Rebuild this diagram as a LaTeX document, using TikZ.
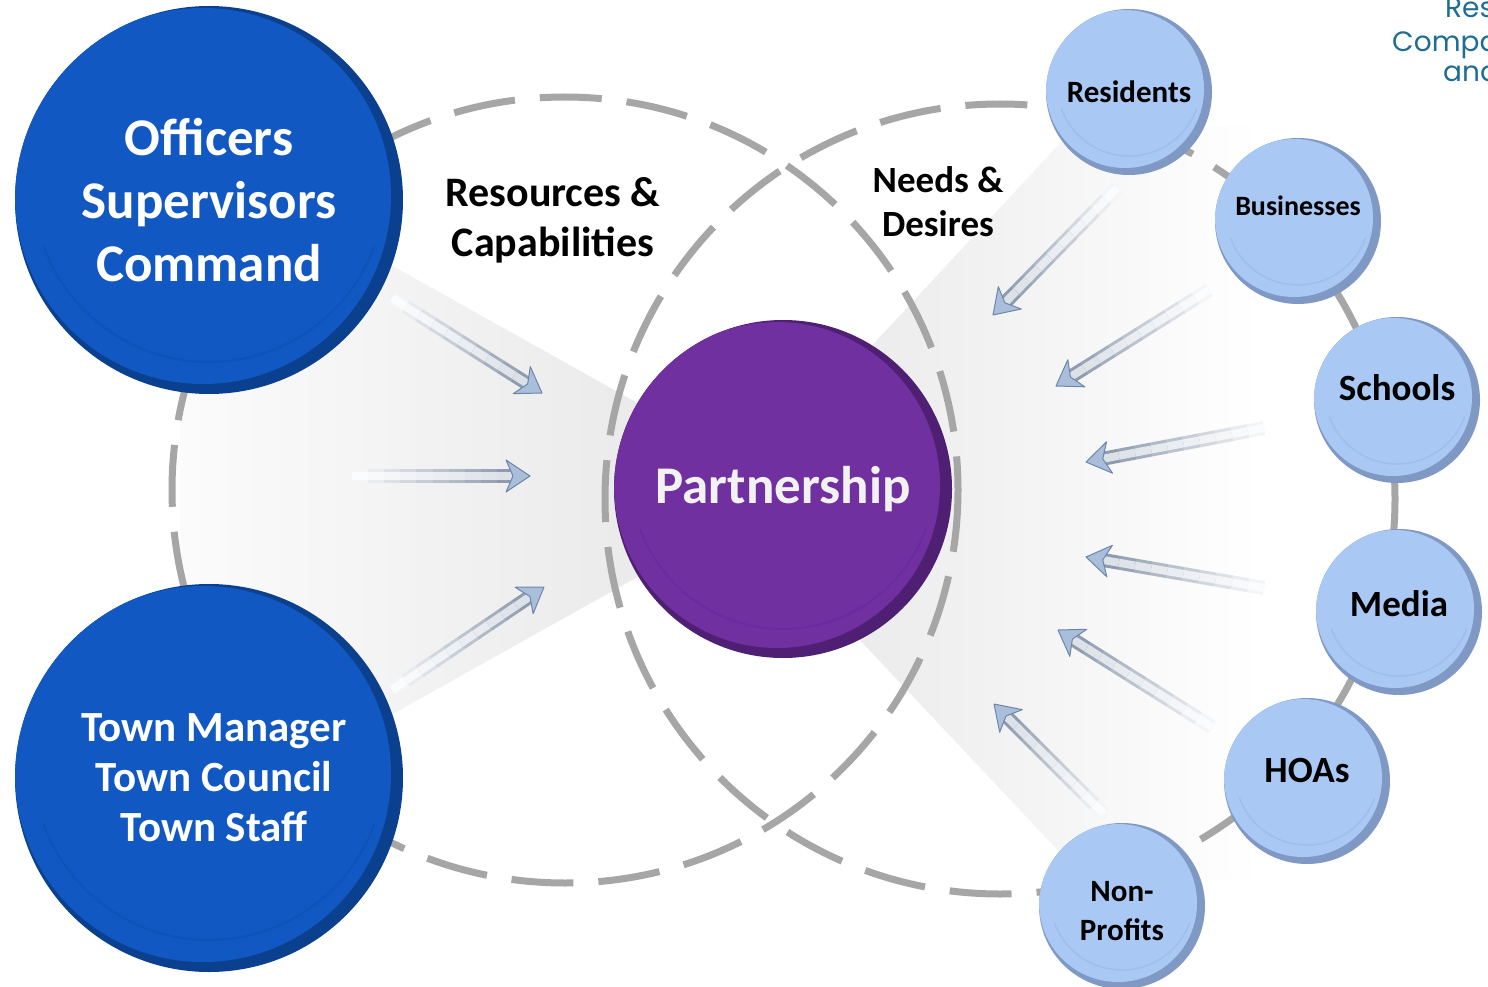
\documentclass[tikz,border=0pt]{standalone}
\usepackage{fontspec}
\setmainfont{Carlito}
\newfontfamily\gothicfont{Poppins}
\usepackage{xcolor}
\usepackage{tikz}
\usetikzlibrary{calc, backgrounds, positioning}

\definecolor{ringgray}{HTML}{A6A6A6}
\definecolor{leadblue}{HTML}{1158C2}
\definecolor{leadrim}{HTML}{0B408F}
\definecolor{leadlip}{HTML}{1053B8}
\definecolor{partpurple}{HTML}{7030A0}
\definecolor{partrim}{HTML}{4E1F72}
\definecolor{partlip}{HTML}{692C9C}
\definecolor{groupblue}{HTML}{A9C8F4}
\definecolor{grouprim}{HTML}{7F99C4}
\definecolor{grouplip}{HTML}{9FBEEC}
\definecolor{arrowedge}{HTML}{8E9BAE}
\definecolor{arrowcore}{HTML}{DCE1E8}
\definecolor{arrowhead}{HTML}{A9BEDB}
\definecolor{arrowheadedge}{HTML}{6E86A8}
\definecolor{tealtext}{HTML}{1E6E93}

\tikzset{
    leadnode/.style = {circle, draw=none, fill=leadrim, minimum size=388pt, inner sep=0pt,
      node distance=0em, text=white, align=center, font=\fontsize{53}{63}\selectfont\bfseries,
      path picture={
        \fill[leadblue] ([xshift=-6pt, yshift=4pt]path picture bounding box.center) circle (188pt);
        \draw[leadlip, line width=2pt] ([yshift=14pt]path picture bounding box.center)
          ++(200:176pt) arc[start angle=200, end angle=340, radius=176pt];}},
    partnode/.style = {circle, draw=none, fill=partrim, minimum size=338pt, inner sep=0pt,
      node distance=0em, text=white!95!black, align=center, font=\fontsize{53}{63}\selectfont\bfseries,
      path picture={
        \fill[partpurple] ([xshift=-6pt, yshift=4pt]path picture bounding box.center) circle (163pt);
        \draw[partlip, line width=2pt] ([yshift=12pt]path picture bounding box.center)
          ++(200:152pt) arc[start angle=200, end angle=340, radius=152pt];}},
    groupnode/.style = {circle, draw=none, fill=grouprim, minimum size=166pt, inner sep=0pt,
      node distance=0em, text=black, align=center,
      path picture={
        \fill[groupblue] ([xshift=-4pt, yshift=3pt]path picture bounding box.center) circle (79pt);
        \draw[grouplip, line width=1.5pt] ([yshift=8pt]path picture bounding box.center)
          ++(200:72pt) arc[start angle=200, end angle=340, radius=72pt];}},
    textnode/.style = {draw=none, fill=none, inner sep=0pt, align=center, text=black},
    tealnote/.style = {draw=none, inner sep=0pt, text=tealtext, font=\gothicfont\fontsize{28}{34}\selectfont},
    ringline/.style = {draw=ringgray, line width=7pt, dash pattern=on 62pt off 25pt},
    headtip/.style = {fill=arrowhead, draw=arrowheadedge, line width=1pt, line join=round}
}

% shaft fades in towards the tip
\newcommand{\flowarrow}[2]{%
  \coordinate (hn) at ($(#2)!17pt!(#1)$);
  \foreach \k [evaluate=\k as \fa using (\k-1)/10, evaluate=\k as \fb using \k/10,
      evaluate=\k as \pct using int(10*\k)] in {1,...,10}{
    \draw[line width=14pt, arrowedge!\pct!white] ($(#1)!\fa!(hn)$) -- ($(#1)!\fb!(hn)$);
    \draw[line width=8pt, arrowcore!\pct!white] ($(#1)!\fa!(hn)$) -- ($(#1)!\fb!(hn)$);
  }
  \filldraw[headtip] (#2) -- ($($(#2)!24pt!(#1)$)!16pt!90:(#2)$) -- (hn)
    -- ($($(#2)!24pt!(#1)$)!16pt!-90:(#2)$) -- cycle;
}

\begin{document}
\begin{tikzpicture}[x=1pt, y=-1pt]
    \useasboundingbox (0,0) rectangle (1488,987);

    \node [name=partner, partnode] at (783,489) {Partnership};

    \node [name=officers, leadnode, left of=partner, xshift=-574pt, yshift=289pt]
        {Officers\\Supervisors\\Command};
    \node [name=town, leadnode, left of=partner, xshift=-574pt, yshift=-289pt,
        font=\fontsize{43}{50}\selectfont\bfseries] {\hspace*{10pt}Town Manager\\\hspace*{10pt}Town Council\\\hspace*{10pt}Town Staff};

    \node [name=residents, groupnode, right of=partner, xshift=346pt, yshift=397pt,
        font=\fontsize{31}{36}\selectfont\bfseries] {Residents};
    \node [name=business, groupnode, right of=partner, xshift=515pt, yshift=268pt,
        font=\fontsize{28}{34}\selectfont\bfseries] {\raisebox{30pt}{Businesses}};
    \node [name=schools, groupnode, right of=partner, xshift=614pt, yshift=89pt,
        font=\fontsize{37}{44}\selectfont\bfseries] {\raisebox{24pt}{Schools}};
    \node [name=media, groupnode, right of=partner, xshift=616pt, yshift=-123pt,
        font=\fontsize{37}{44}\selectfont\bfseries] {\raisebox{16pt}{Media}};
    \node [name=hoas, groupnode, right of=partner, xshift=524pt, yshift=-292pt,
        font=\fontsize{37}{44}\selectfont\bfseries] {\raisebox{22pt}{HOAs}};
    \node [name=nonprofit, groupnode, right of=partner, xshift=339pt, yshift=-417pt,
        font=\fontsize{31}{39}\selectfont\bfseries]
        {\raisebox{0pt}[\dimexpr\height+14pt\relax][\depth]{\begin{tabular}{@{}c@{}}Non-\\Profits\end{tabular}}};

    \node [name=resources, textnode, font=\fontsize{42}{50}\selectfont\bfseries] at (553,220)
        {Resources \&\\Capabilities};
    \node [name=needs, textnode, font=\fontsize{37}{44}\selectfont\bfseries] at (938,202)
        {Needs \&\\Desires};

    \node [name=tealone, tealnote, anchor=base west] at (1445,18) {Res};
    \node [name=tealtwo, tealnote, anchor=base west] at (1392,52) {Compa};
    \node [name=tealthree, tealnote, anchor=base west] at (1443,82) {and};

    % arrow ends
    \coordinate (lt1) at (392,298);   \coordinate (lh1) at (542,393);
    \coordinate (lt2) at (352,476);   \coordinate (lh2) at (530,476);
    \coordinate (lt3) at (392,690);   \coordinate (lh3) at (544,587);
    \coordinate (rt1) at (1117,188);  \coordinate (rh1) at (993,315);
    \coordinate (rt2) at (1209,290);  \coordinate (rh2) at (1056,386);
    \coordinate (rt3) at (1264,428);  \coordinate (rh3) at (1086,462);
    \coordinate (rt4) at (1264,588);  \coordinate (rh4) at (1086,557);
    \coordinate (rt5) at (1212,727);  \coordinate (rh5) at (1058,630);
    \coordinate (rt6) at (1104,814);  \coordinate (rh6) at (994,704);

    \flowarrow{lt1}{lh1}
    \flowarrow{lt2}{lh2}
    \flowarrow{lt3}{lh3}
    \flowarrow{rt1}{rh1}
    \flowarrow{rt2}{rh2}
    \flowarrow{rt3}{rh3}
    \flowarrow{rt4}{rh4}
    \flowarrow{rt5}{rh5}
    \flowarrow{rt6}{rh6}

    \begin{pgfonlayer}{background}
        \fill[white] (0,0) rectangle (1488,987);
        \shade[left color=gray!3, right color=gray!18]
            (180,147) -- (700,438) -- (700,542) -- (180,833) -- cycle;
        \shade[left color=gray!16, right color=white]
            (840,380) -- (1075,127) -- (1260,127) -- (1260,879) -- (1085,879) -- (840,619) -- cycle;
        \coordinate (leftring) at (565,490);
        \coordinate (rightring) at (1000,499);
        \draw[ringline] (leftring) circle (393);
        \draw[ringline] (rightring) circle (395);
    \end{pgfonlayer}
\end{tikzpicture}
\end{document}
